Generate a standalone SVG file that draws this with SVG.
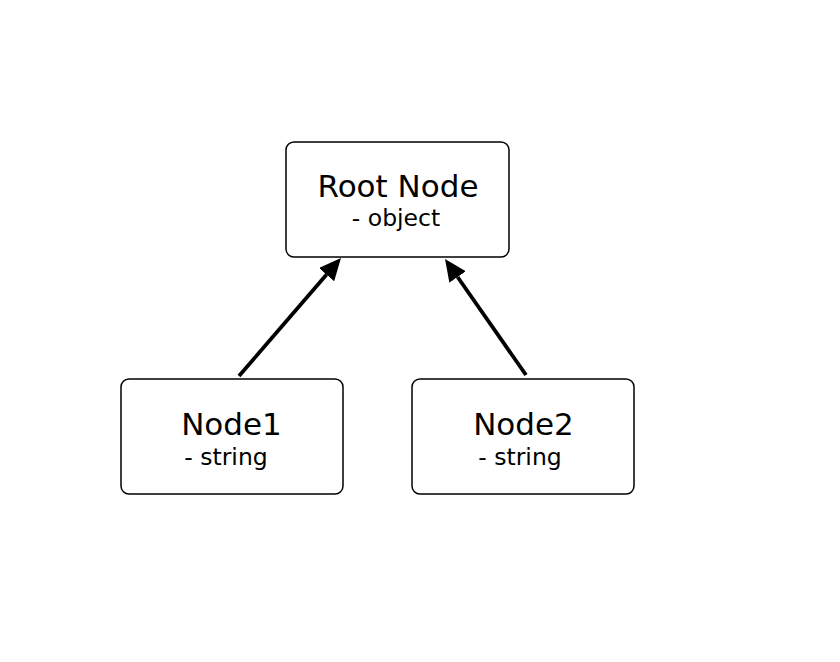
<svg xmlns="http://www.w3.org/2000/svg" width="840" height="662" viewBox="0 0 840 662">
<style>
.box{fill:#fff;stroke:#000;stroke-width:1.5}
.t1{font-family:"DejaVu Sans",sans-serif;font-size:31px;fill:#000;text-anchor:middle}
.t2{font-family:"DejaVu Sans",sans-serif;font-size:23.5px;fill:#000;text-anchor:middle}
.edge{stroke:#000;stroke-width:3.8;fill:none}
</style>
<defs>
<marker id="ah" markerUnits="userSpaceOnUse" markerWidth="24" markerHeight="22" refX="0" refY="10" orient="auto" viewBox="0 0 24 22">
<path d="M0,0 L22,10 L0,20 z" fill="#000"/>
</marker>
</defs>
<rect width="840" height="662" fill="#fff"/>
<g id="edges">
<line class="edge" x1="239" y1="376" x2="326.6" y2="274.6" marker-end="url(#ah)"/>
<line class="edge" x1="526" y1="375" x2="457.6" y2="277" marker-end="url(#ah)"/>
</g>
<g id="root">
<rect class="box" x="286" y="142" width="223" height="115" rx="8"/>
<text class="t1" x="398" y="197">Root Node</text>
<text class="t2" x="396" y="226">- object</text>
</g>
<g id="node1">
<rect class="box" x="121" y="379" width="222" height="115" rx="8"/>
<text class="t1" x="231.5" y="435">Node1</text>
<text class="t2" x="226" y="465">- string</text>
</g>
<g id="node2">
<rect class="box" x="412" y="379" width="222" height="115" rx="8"/>
<text class="t1" x="523.5" y="435">Node2</text>
<text class="t2" x="520" y="465">- string</text>
</g>
</svg>
